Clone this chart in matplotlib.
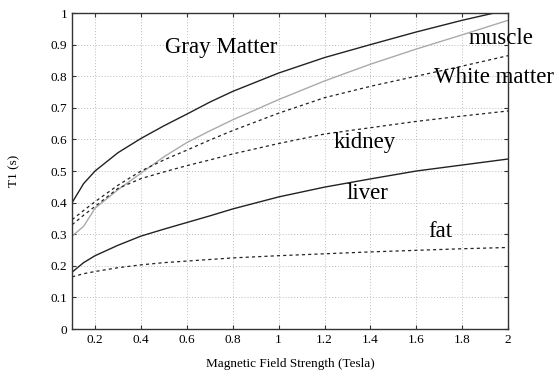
import matplotlib
matplotlib.use("Agg")
import matplotlib.pyplot as plt

field = [0.1, 0.15, 0.2, 0.3, 0.4, 0.5, 0.6, 0.7, 0.8, 1.0, 1.2, 1.4, 1.6, 1.8, 2.0]
gray_matter = [0.40, 0.46, 0.50, 0.558, 0.603, 0.643, 0.68, 0.718, 0.752, 0.81, 0.859, 0.90, 0.94, 0.977, 1.01]
muscle = [0.294, 0.325, 0.382, 0.441, 0.493, 0.545, 0.59, 0.627, 0.662, 0.726, 0.785, 0.838, 0.886, 0.931, 0.977]
white_matter = [0.346, 0.375, 0.403, 0.455, 0.50, 0.535, 0.566, 0.598, 0.628, 0.683, 0.732, 0.768, 0.80, 0.832, 0.865]
kidney = [0.33, 0.36, 0.388, 0.445, 0.476, 0.497, 0.517, 0.535, 0.554, 0.587, 0.617, 0.637, 0.657, 0.674, 0.69]
liver = [0.18, 0.21, 0.232, 0.265, 0.294, 0.316, 0.337, 0.358, 0.38, 0.418, 0.449, 0.475, 0.5, 0.519, 0.538]
fat = [0.165, 0.175, 0.182, 0.194, 0.203, 0.21, 0.215, 0.22, 0.225, 0.232, 0.238, 0.244, 0.249, 0.254, 0.258]

xticks = [0.2, 0.4, 0.6, 0.8, 1.0, 1.2, 1.4, 1.6, 1.8, 2.0]
xticklabels = ["0.2", "0.4", "0.6", "0.8", "1", "1.2", "1.4", "1.6", "1.8", "2"]
yticks = [0, 0.1, 0.2, 0.3, 0.4, 0.5, 0.6, 0.7, 0.8, 0.9, 1.0]
yticklabels = ["0", "0.1", "0.2", "0.3", "0.4", "0.5", "0.6", "0.7", "0.8", "0.9", "1"]

plt.rcParams['font.family'] = ['Liberation Serif', 'DejaVu Serif']

fig = plt.figure(figsize=(5.59, 3.78), dpi=100)
ax = fig.add_axes([0.129, 0.1296, 0.78, 0.836])

dash = (0, (2.5, 2.5))
ax.plot(field, gray_matter, color='#222222', lw=1.0, ls='-')
ax.plot(field, muscle, color='#aaaaaa', lw=1.0, ls='-')
ax.plot(field, white_matter, color='#222222', lw=0.9, ls=dash)
ax.plot(field, kidney, color='#222222', lw=0.9, ls=dash)
ax.plot(field, liver, color='#222222', lw=1.0, ls='-')
ax.plot(field, fat, color='#222222', lw=0.9, ls=dash)

ax.set_xlim(0.1, 2.0)
ax.set_ylim(0, 1)
ax.set_xticks(xticks)
ax.set_xticklabels(xticklabels)
ax.set_yticks(yticks)
ax.set_yticklabels(yticklabels)
ax.tick_params(direction='in', top=True, right=True, labelsize=9.5, length=3, color='#333333')
ax.grid(True, ls=(0, (1, 2)), color='#bbbbbb', lw=0.7)
for s in ax.spines.values():
    s.set_color('#333333')
    s.set_linewidth(1.0)

ax.set_xlabel("Magnetic Field Strength (Tesla)", fontsize=9.5, labelpad=9)
ax.set_ylabel("T1 (s)", fontsize=9.5, labelpad=22)

txt = dict(fontsize=16.5, va='center', ha='left', clip_on=False)
ax.text(0.505, 0.89, "Gray Matter", **txt)
ax.text(1.826, 0.92, "muscle", **txt)
ax.text(1.678, 0.795, "White matter", **txt)
ax.text(1.239, 0.589, "kidney", **txt)
ax.text(1.296, 0.43, "liver", **txt)
ax.text(1.652, 0.31, "fat", **txt)

fig.savefig("out.png", dpi=100)
